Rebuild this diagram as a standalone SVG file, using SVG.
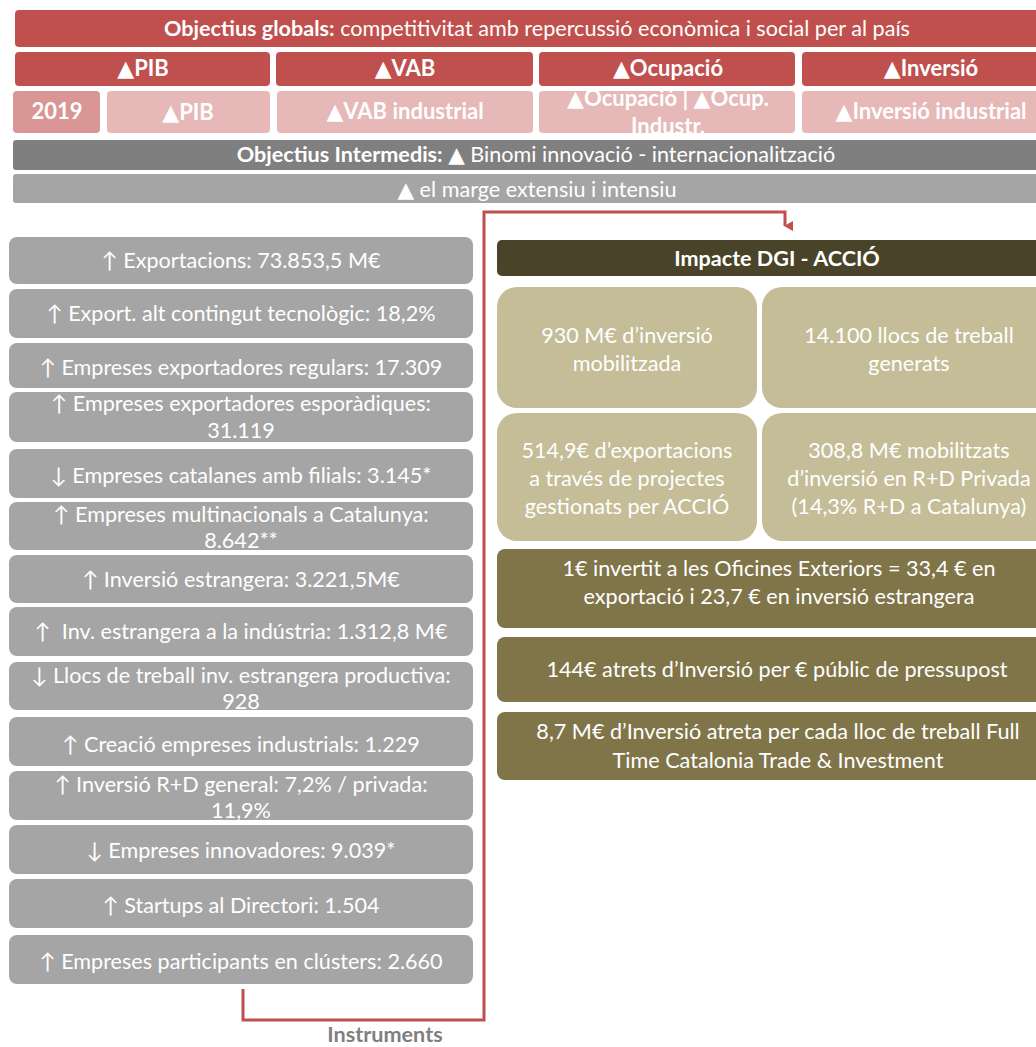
<svg xmlns="http://www.w3.org/2000/svg" width="1036" height="1047" viewBox="0 0 1036 1047">
<style>
text{font-family:Lato,"DejaVu Sans",sans-serif;fill:#fff;text-anchor:middle;font-size:21.6px}
.b{font-weight:bold}
.lb{font-size:22px}
.red{fill:#c0504d}
.pink{fill:#e6b8b7}
.pink2{fill:#d99694}
.g1{fill:#7f7f7f}
.g2{fill:#a5a5a5}
.hdr{fill:#494429}
.tan{fill:#c4bd97}
.olv{fill:#7f7549}
.conn{fill:none;stroke:#c0504d;stroke-width:3}
</style>
<defs>
<marker id="ah" markerWidth="10" markerHeight="10" refX="5" refY="8" orient="auto" markerUnits="userSpaceOnUse" viewBox="0 0 10 10">
<path d="M0,0 L10,0 L5,9 Z" fill="#c0504d"/>
</marker>
</defs>
<rect width="1036" height="1047" fill="#fff"/>

<g id="objectius-globals">
<rect class="red" x="15" y="10" width="1045" height="37" rx="4"/>
<text x="537" y="36"><tspan class="b">Objectius globals:</tspan> competitivitat amb repercussió econòmica i social per al país</text>
</g>
<g id="pib">
<rect class="red" x="15" y="52" width="255" height="34" rx="4"/>
<text class="b lb" x="143" y="76">▲PIB</text>
</g>
<g id="vab">
<rect class="red" x="276" y="52" width="257" height="34" rx="4"/>
<text class="b lb" x="405" y="76">▲VAB</text>
</g>
<g id="ocupacio">
<rect class="red" x="539" y="52" width="256" height="34" rx="4"/>
<text class="b lb" x="668" y="76">▲Ocupació</text>
</g>
<g id="inversio">
<rect class="red" x="802" y="52" width="258" height="34" rx="4"/>
<text class="b lb" x="931" y="76">▲Inversió</text>
</g>
<g id="y2019">
<rect class="pink2" x="13" y="91" width="87" height="42" rx="4"/>
<text class="b lb" x="57" y="119">2019</text>
</g>
<g id="pib-sub">
<rect class="pink" x="107" y="91" width="163" height="42" rx="4"/>
<text class="b lb" x="188" y="120">▲PIB</text>
</g>
<g id="vab-ind">
<rect class="pink" x="277" y="91" width="256" height="42" rx="4"/>
<text class="b lb" x="405" y="119">▲VAB industrial</text>
</g>
<g id="ocup-sub">
<rect class="pink" x="539" y="91" width="256" height="42" rx="4"/>
<text class="b lb" x="668" y="106">▲Ocupació | ▲Ocup.</text>
<text class="b lb" x="668" y="134">Industr.</text>
</g>
<g id="inv-ind">
<rect class="pink" x="802" y="91" width="258" height="42" rx="4"/>
<text class="b lb" x="931" y="119">▲Inversió industrial</text>
</g>
<g id="objectius-intermedis">
<rect class="g1" x="13" y="140" width="1047" height="30" rx="3"/>
<text x="536" y="162"><tspan class="b">Objectius Intermedis:</tspan> ▲ Binomi innovació - internacionalització</text>
</g>
<g id="marge">
<rect class="g2" x="13" y="174" width="1047" height="29" rx="3"/>
<text x="537" y="197">▲ el marge extensiu i intensiu</text>
</g>

<g id="connectors">
<path class="conn" d="M243,989 V1020 H484 V212 H785 V226" marker-end="url(#ah)"/>
</g>

<g id="ind1"><rect class="g2" x="9" y="237" width="464" height="47" rx="8"/><text x="241" y="268">↑ Exportacions: 73.853,5 M€</text></g>
<g id="ind2"><rect class="g2" x="9" y="289" width="464" height="49" rx="8"/><text x="241" y="321">↑ Export. alt contingut tecnològic: 18,2%</text></g>
<g id="ind3"><rect class="g2" x="9" y="343" width="464" height="45" rx="8"/><text x="241" y="375">↑ Empreses exportadores regulars: 17.309</text></g>
<g id="ind4"><rect class="g2" x="9" y="392" width="464" height="50" rx="8"/><text x="241" y="411">↑ Empreses exportadores esporàdiques:</text><text x="241" y="438">31.119</text></g>
<g id="ind5"><rect class="g2" x="9" y="449" width="464" height="49" rx="8"/><text x="241" y="483">↓ Empreses catalanes amb filials: 3.145*</text></g>
<g id="ind6"><rect class="g2" x="9" y="502" width="464" height="48" rx="8"/><text x="241" y="522">↑ Empreses multinacionals a Catalunya:</text><text x="241" y="548">8.642**</text></g>
<g id="ind7"><rect class="g2" x="9" y="555" width="464" height="48" rx="8"/><text x="241" y="587">↑ Inversió estrangera: 3.221,5M€</text></g>
<g id="ind8"><rect class="g2" x="9" y="607" width="464" height="49" rx="8"/><text x="241" y="639" style="white-space:pre">↑  Inv. estrangera a la indústria: 1.312,8 M€</text></g>
<g id="ind9"><rect class="g2" x="9" y="662" width="464" height="48" rx="8"/><text x="241" y="683">↓ Llocs de treball inv. estrangera productiva:</text><text x="241" y="709">928</text></g>
<g id="ind10"><rect class="g2" x="9" y="717" width="464" height="49" rx="8"/><text x="241" y="752">↑ Creació empreses industrials: 1.229</text></g>
<g id="ind11"><rect class="g2" x="9" y="771" width="464" height="49" rx="8"/><text x="241" y="792">↑ Inversió R+D general: 7,2% / privada:</text><text x="241" y="818">11,9%</text></g>
<g id="ind12"><rect class="g2" x="9" y="825" width="464" height="49" rx="8"/><text x="241" y="858">↓ Empreses innovadores: 9.039*</text></g>
<g id="ind13"><rect class="g2" x="9" y="879" width="464" height="49" rx="8"/><text x="241" y="913">↑ Startups al Directori: 1.504</text></g>
<g id="ind14"><rect class="g2" x="9" y="935" width="464" height="49" rx="8"/><text x="241" y="969">↑ Empreses participants en clústers: 2.660</text></g>

<g id="instruments-label"><text class="b" x="385" y="1042" style="fill:#7f7f7f">Instruments</text></g>

<g id="impacte"><rect class="hdr" x="497" y="240" width="563" height="36" rx="5"/><text class="b" x="777" y="266">Impacte DGI - ACCIÓ</text></g>
<g id="card1"><rect class="tan" x="497" y="287" width="260" height="121" rx="20"/><text x="627" y="343">930 M€ d’inversió</text><text x="627" y="371">mobilitzada</text></g>
<g id="card2"><rect class="tan" x="762" y="287" width="298" height="121" rx="20"/><text x="909" y="343">14.100 llocs de treball</text><text x="909" y="371">generats</text></g>
<g id="card3"><rect class="tan" x="497" y="413" width="260" height="128" rx="20"/><text x="627" y="458">514,9€ d’exportacions</text><text x="627" y="486">a través de projectes</text><text x="627" y="514">gestionats per ACCIÓ</text></g>
<g id="card4"><rect class="tan" x="762" y="413" width="298" height="128" rx="20"/><text x="909" y="458">308,8 M€ mobilitzats</text><text x="909" y="486">d’inversió en R+D Privada</text><text x="909" y="514">(14,3% R+D a Catalunya)</text></g>
<g id="oficines"><rect class="olv" x="497" y="549" width="563" height="79" rx="8"/><text x="779" y="576">1€ invertit a les Oficines Exteriors = 33,4 € en</text><text x="779" y="604">exportació i 23,7 € en inversió estrangera</text></g>
<g id="atrets"><rect class="olv" x="497" y="637" width="563" height="65" rx="8"/><text x="777" y="677">144€ atrets d’Inversió per € públic de pressupost</text></g>
<g id="lloc"><rect class="olv" x="497" y="712" width="563" height="68" rx="8"/><text x="778" y="739">8,7 M€ d’Inversió atreta per cada lloc de treball Full</text><text x="778" y="768">Time Catalonia Trade &amp; Investment</text></g>
</svg>
